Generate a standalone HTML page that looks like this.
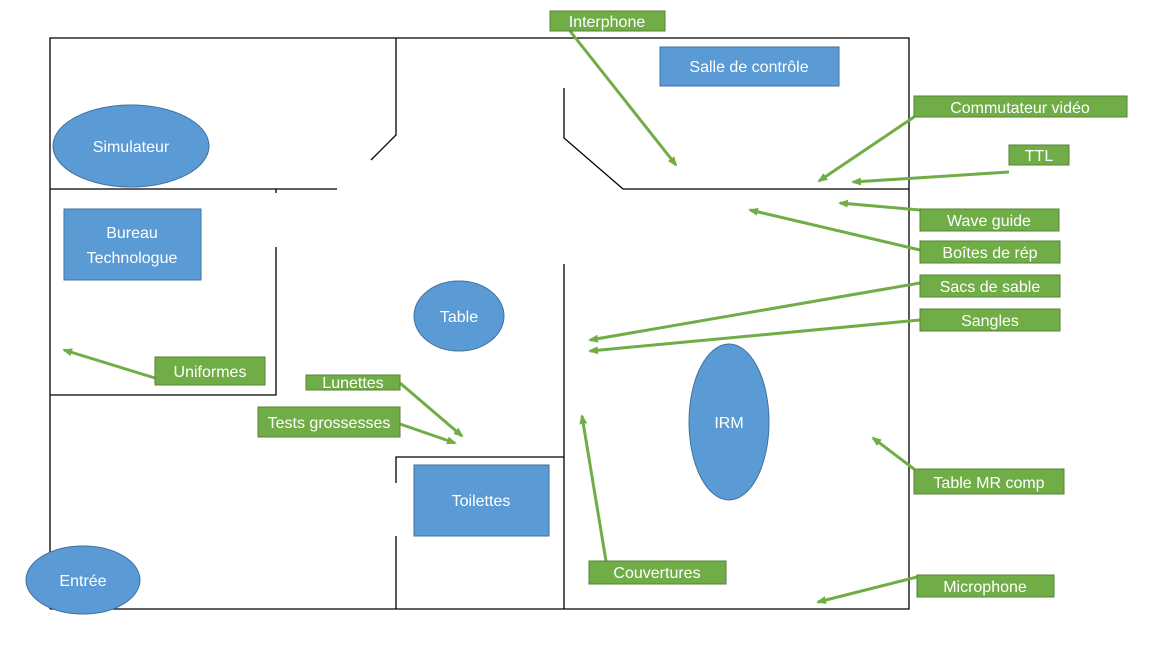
<!DOCTYPE html>
<html><head><meta charset="utf-8"><style>
html,body{margin:0;padding:0;background:#fff;}
svg text{font-family:"Liberation Sans",sans-serif;fill:#fff;font-size:16px;}
</style></head><body>
<svg width="1170" height="662" viewBox="0 0 1170 662" xmlns="http://www.w3.org/2000/svg">
<defs>
<marker id="a" markerWidth="10" markerHeight="8" refX="8" refY="4" orient="auto" markerUnits="userSpaceOnUse">
<path d="M0,0 L10,4 L0,8 Z" fill="#70ad47"/></marker>
</defs>
<g stroke="#000" stroke-width="1.3" fill="none">
<polyline points="50,609 50,38 909,38 909,609 50,609"/>
<polyline points="396,38 396,135 371,160"/>
<line x1="50" y1="189" x2="337" y2="189"/>
<line x1="276" y1="189" x2="276" y2="193"/>
<polyline points="564,88 564,138 623,189 909,189"/>
<polyline points="276,247 276,395 50,395"/>
<line x1="564" y1="264" x2="564" y2="609"/>
<polyline points="396,483 396,457 564,457"/>
<line x1="396" y1="536" x2="396" y2="609"/>
</g>
<g fill="#5b9bd5" stroke="#41719c" stroke-width="1">
<ellipse cx="131" cy="146" rx="78" ry="41"/>
<rect x="64" y="209" width="137" height="71"/>
<ellipse cx="459" cy="316" rx="45" ry="35"/>
<rect x="414" y="465" width="135" height="71"/>
<ellipse cx="729" cy="422" rx="40" ry="78"/>
<ellipse cx="83" cy="580" rx="57" ry="34"/>
<rect x="660" y="47" width="179" height="39"/>
</g>
<g text-anchor="middle">
<text x="131" y="152">Simulateur</text>
<text x="132" y="238">Bureau</text>
<text x="132" y="263">Technologue</text>
<text x="459" y="322">Table</text>
<text x="481" y="506">Toilettes</text>
<text x="729" y="428">IRM</text>
<text x="83" y="586">Entrée</text>
<text x="749" y="72">Salle de contrôle</text>
</g>
<g stroke="#70ad47" stroke-width="3" marker-end="url(#a)">
<line x1="570" y1="31" x2="676" y2="165"/>
<line x1="914" y1="117" x2="819" y2="181"/>
<line x1="1009" y1="172" x2="853" y2="182"/>
<line x1="920" y1="210" x2="840" y2="203"/>
<line x1="920" y1="250" x2="750" y2="210"/>
<line x1="920" y1="283" x2="590" y2="340"/>
<line x1="920" y1="320" x2="590" y2="351"/>
<line x1="155" y1="378" x2="64" y2="350"/>
<line x1="400" y1="383" x2="462" y2="436"/>
<line x1="400" y1="424" x2="455" y2="443"/>
<line x1="606" y1="561" x2="582" y2="416"/>
<line x1="914" y1="469" x2="873" y2="438"/>
<line x1="917" y1="577" x2="818" y2="602"/>
</g>
<g fill="#70ad47" stroke="#548235" stroke-width="1">
<rect x="550" y="11" width="115" height="20"/>
<rect x="914" y="96" width="213" height="21"/>
<rect x="1009" y="145" width="60" height="20"/>
<rect x="920" y="209" width="139" height="22"/>
<rect x="920" y="241" width="140" height="22"/>
<rect x="920" y="275" width="140" height="22"/>
<rect x="920" y="309" width="140" height="22"/>
<rect x="155" y="357" width="110" height="28"/>
<rect x="306" y="375" width="94" height="15"/>
<rect x="258" y="407" width="142" height="30"/>
<rect x="914" y="469" width="150" height="25"/>
<rect x="589" y="561" width="137" height="23"/>
<rect x="917" y="575" width="137" height="22"/>
</g>
<g text-anchor="middle">
<text x="607" y="27">Interphone</text>
<text x="1020" y="113">Commutateur vidéo</text>
<text x="1039" y="161">TTL</text>
<text x="989" y="226">Wave guide</text>
<text x="990" y="258">Boîtes de rép</text>
<text x="990" y="292">Sacs de sable</text>
<text x="990" y="326">Sangles</text>
<text x="210" y="377">Uniformes</text>
<text x="353" y="388">Lunettes</text>
<text x="329" y="428">Tests grossesses</text>
<text x="989" y="488">Table MR comp</text>
<text x="657" y="578">Couvertures</text>
<text x="985" y="592">Microphone</text>
</g>
</svg>
</body></html>
